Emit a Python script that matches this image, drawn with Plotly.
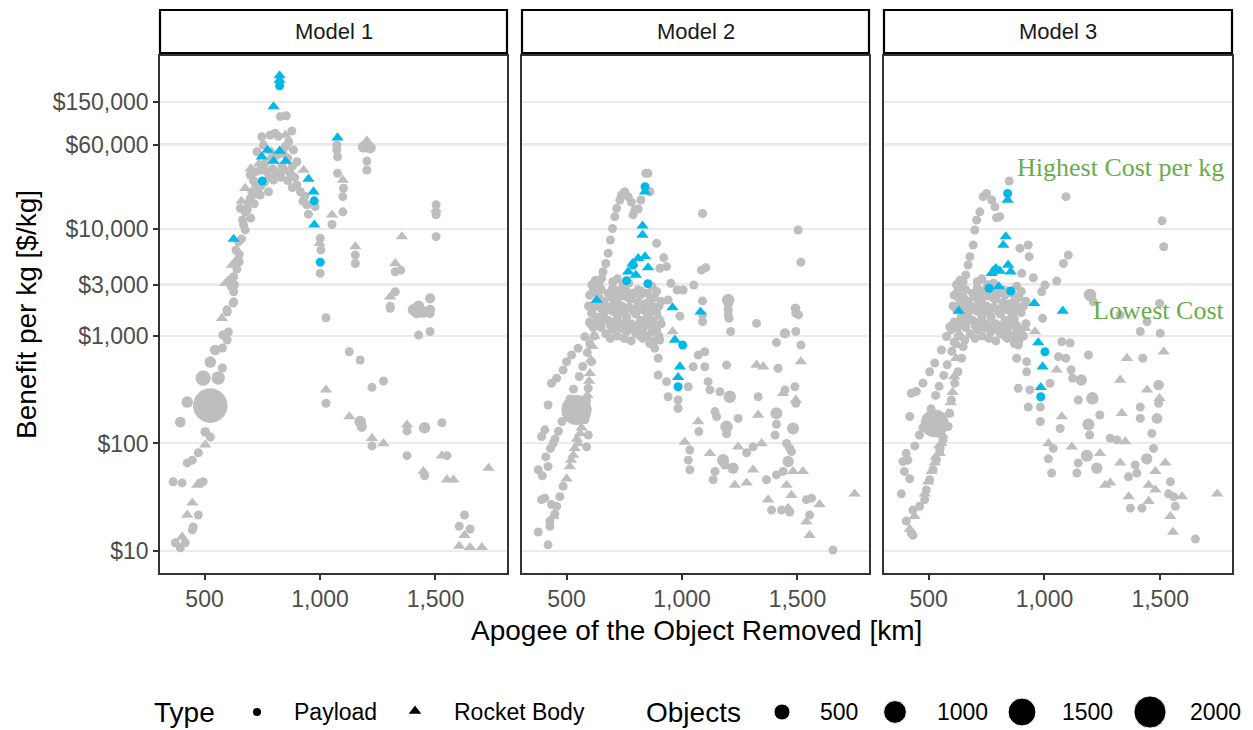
import math
import plotly.graph_objects as go

# ---------------- data: (apogee km, benefit $/kg[, objects]) ----------------
DEFAULT_N = 120

m1_payload = [
    (373, 11.9), (395, 10.7), (416, 11.9), (447, 15.7), (451, 16.7), (473, 21.6, 150),
    (481, 43, 150), (494, 44, 150), (364, 44, 150), (403, 43, 150), (425, 66), (447, 70),
    (473, 82), (525, 115), (503, 128, 180), (395, 158, 220), (425, 243, 260), (525, 225, 2300),
    (494, 406, 450), (559, 406, 350), (577, 503, 160), (525, 572, 260), (546, 741, 220),
    (577, 773, 160), (581, 1021, 180), (603, 1089), (598, 918), (598, 1671, 150), (624, 2027),
    (626, 2580), (626, 2080), (597, 1750), (611, 3320), (626, 3560), (650, 4910), (650, 5750),
    (647, 7530), (676, 9700), (669, 10800), (676, 14300), (655, 15400), (698, 19100),
    (741, 20500), (777, 22000), (799, 28200), (770, 33700), (741, 34900), (720, 33700),
    (698, 31500), (727, 51800), (755, 59800), (748, 71400), (784, 74000), (806, 77000),
    (820, 72000), (864, 64100), (878, 80700), (885, 53700), (900, 41800), (871, 32600),
    (900, 25400), (926, 18000), (943, 16600), (950, 13600), (979, 16000), (1001, 8110),
    (1004, 6310), (1001, 3830), (828, 110000), (854, 112000), (1073, 59800), (1073, 53700),
    (1076, 46500), (1076, 32600), (1102, 23700), (1099, 19800), (1099, 14300), (1052, 10900),
    (1026, 1480), (1189, 57600, 260), (1217, 56400, 260), (1203, 42400), (1203, 35000),
    (1153, 5660), (1153, 4730), (1326, 3960), (1350, 4100), (1326, 2580), (1304, 1810),
    (1304, 1890), (1503, 16600), (1503, 13400), (1503, 8400), (1405, 1750, 260),
    (1427, 1890, 260), (1420, 1670, 300), (1448, 1670, 260), (1477, 2240, 200),
    (1477, 1750, 200), (1477, 1620), (1427, 1020), (1477, 1100), (1127, 714), (1174, 598),
    (1275, 381), (1225, 333), (1026, 237), (1174, 160, 260), (1181, 143, 200), (1225, 95),
    (1377, 131), (1453, 140, 260), (1528, 156), (1377, 77), (1453, 50), (1550, 77),
    (1626, 21.6), (1603, 17), (1650, 16),
    (760, 40000), (790, 45000), (815, 48000), (840, 50000), (860, 45000), (880, 38000),
    (835, 38000), (745, 25000), (720, 26000), (705, 22000), (690, 17000), (712, 28000),
    (850, 58000), (636, 6300), (640, 4200), (615, 2900),
    (630, 3000), (640, 5000), (660, 8000), (665, 12000), (685, 15000), (700, 12500),
    (715, 17000), (725, 21000), (735, 24000), (760, 27000), (780, 30000), (795, 36000),
    (810, 33000), (830, 30000), (845, 35000), (860, 28000), (880, 24000), (890, 30000),
    (915, 22000), (935, 20000),
]
m1_rocket = [
    (403, 13.5), (425, 21.6), (447, 28), (468, 41), (503, 97), (575, 1460), (590, 3090),
    (619, 4570), (676, 23700), (850, 74000), (929, 35000), (998, 7280), (1099, 28200),
    (1052, 13400), (1203, 63400, 260), (1153, 6780), (1355, 8400), (1326, 4730), (1304, 2320),
    (1503, 14900), (1026, 315), (1127, 178), (1225, 112), (1275, 100), (1377, 149), (1448, 55),
    (1528, 77), (1550, 46), (1578, 46), (1730, 59), (1626, 14), (1603, 11.1), (1650, 10.8),
    (1701, 10.8), (660, 18000), (700, 36000), (735, 40000), (790, 52000),
]
m1_payload_hl = [(825, 213000), (750, 27700), (975, 18100), (1001, 4860)]
m1_rocket_hl = [
    (825, 265000), (825, 240000), (799, 136000), (773, 53700), (748, 46500), (825, 52600),
    (799, 42400), (851, 42400), (950, 28800), (972, 22000), (975, 10800), (626, 7980),
    (1076, 70000),
]

m2_payload = [
    (843, 32600), (853, 32600), (861, 22000), (822, 18400), (752, 22000), (738, 20500),
    (767, 19800), (731, 18400), (781, 17600), (717, 15400), (796, 14900), (810, 15200),
    (788, 13400), (709, 12900), (699, 10000), (690, 7820), (680, 5880), (670, 4730),
    (658, 3960), (652, 3440), (641, 2980), (632, 2580), (1089, 13800), (1503, 9680),
    (1515, 4860), (890, 7280), (921, 5360), (904, 4260), (933, 4420), (952, 3090), (979, 2680),
    (1005, 2680), (1051, 2980), (1084, 4100), (1103, 4320), (940, 2160), (1089, 2120),
    (1200, 2160, 300), (1200, 1750), (1204, 1460), (1323, 1310), (1490, 1810), (1505, 1570),
    (608, 1630), (601, 1310), (579, 986), (550, 769), (522, 665), (500, 577), (485, 483),
    (457, 404), (435, 363), (420, 228), (406, 134), (392, 116), (442, 100), (420, 61),
    (377, 57), (406, 31), (392, 30), (435, 27), (449, 22), (428, 19), (377, 15), (420, 11.4),
    (543, 205, 1750), (608, 577), (594, 326), (587, 254), (579, 166), (485, 40), (471, 32),
    (457, 26), (428, 17), (594, 120), (587, 93),
    (991, 1530), (875, 1360), (882, 770), (904, 918), (897, 621), (897, 433), (933, 376),
    (940, 272), (983, 254), (983, 212), (1027, 337), (1070, 665), (1099, 714), (1048, 518),
    (1099, 518), (1113, 376), (1121, 315), (1164, 303), (1207, 272, 300), (1193, 537),
    (1330, 272), (1243, 171), (1143, 198), (1073, 129), (1150, 178), (1193, 143, 300),
    (1193, 123), (1416, 501), (1409, 191, 280), (1409, 151), (1481, 138, 280), (1403, 120),
    (1446, 315), (1489, 337), (1493, 237), (1446, 1060, 200), (1409, 868), (1493, 1100),
    (1515, 824), (1493, 1810), (1493, 1630), (1211, 1100), (1200, 1940), (1200, 1570),
    (1089, 1360), (1089, 1570),
    (1034, 87), (1027, 70), (1034, 57), (1178, 70, 280), (1185, 63), (1221, 59, 250),
    (1143, 55), (1135, 46), (1280, 82), (1308, 93), (1366, 46), (1409, 51), (1438, 55),
    (1460, 68, 250), (1453, 100), (1467, 90), (1474, 84), (1388, 24), (1431, 24), (1467, 23),
    (1539, 30), (1561, 31), (1553, 21.6), (1654, 10.2),
    (640, 2300), (660, 2100), (680, 2500), (700, 2800), (720, 2200), (740, 1900), (760, 2600),
    (780, 2200), (800, 1800), (820, 2400), (840, 2000), (860, 1700), (880, 2300), (900, 1900),
    (760, 1500), (780, 1300), (800, 1600), (820, 1400), (840, 1250), (860, 1450), (700, 1700),
    (720, 1500), (740, 1300), (680, 1400), (660, 1600), (620, 1900), (630, 1500), (650, 1200),
    (670, 1050), (700, 1150), (720, 1000), (870, 1100), (850, 1000), (880, 900), (830, 950),
    (760, 1100), (800, 1050),
    (610, 3000), (625, 3300), (700, 3200), (720, 3400), (745, 3000), (770, 3100),
    (600, 2400), (615, 2600), (650, 2700), (690, 2300), (710, 2450), (730, 2650), (750, 2350),
    (770, 2250), (790, 2500), (810, 2700), (850, 2500), (870, 2900), (890, 2600),
    (595, 1900), (610, 1750), (630, 2000), (650, 1800), (670, 1900), (690, 1750), (710, 1950),
    (730, 1800), (750, 1650), (770, 1850), (790, 1700), (810, 2050), (830, 1750), (850, 1550),
    (870, 1900), (890, 1650), (910, 2100),
    (600, 1350), (615, 1200), (640, 1350), (660, 1400), (690, 1250), (710, 1350), (730, 1200),
    (750, 1150), (770, 1250), (790, 1150), (810, 1250), (830, 1150), (850, 1350), (870, 1250),
    (890, 1150), (910, 1300), (620, 1000), (690, 950), (750, 950), (780, 900), (820, 1000),
    (860, 850), (900, 1000),
    (395, 50), (410, 75), (430, 90), (450, 110), (465, 130), (480, 160), (500, 190),
    (515, 260), (530, 320), (555, 420), (570, 520), (590, 700), (600, 850),
]
m2_rocket = [
    (1012, 103), (1121, 81), (1243, 93), (1345, 100), (1308, 57), (1229, 41), (1280, 43),
    (1481, 55), (1453, 41), (1524, 55), (1474, 33), (1373, 30), (1460, 25), (1596, 27),
    (1539, 18.7), (1553, 14), (1748, 34), (1070, 160), (1330, 184), (1323, 537), (1352, 518),
    (1438, 293), (1493, 254), (1515, 577), (959, 1100), (601, 450), (558, 124), (550, 100),
    (529, 78), (514, 61), (500, 47), (442, 21), (780, 2400), (830, 2600), (700, 2000),
    (740, 1700), (860, 2200), (900, 1500),
    (520, 70), (535, 90), (545, 110), (565, 140), (575, 180), (585, 220), (590, 280),
    (598, 380), (605, 600), (612, 800), (620, 1000), (630, 1300),
]
m2_payload_hl = [(840, 24500), (788, 4580), (760, 3270), (852, 3070), (1003, 824), (983, 337)]
m2_rocket_hl = [
    (840, 22000), (829, 10600), (829, 8700), (840, 5470), (810, 5270), (786, 4730),
    (767, 3960), (800, 3690), (853, 4330), (959, 1840), (1080, 1680), (969, 918), (991, 518),
    (983, 413), (630, 2160),
]

m3_payload = [
    (848, 27700), (750, 21200), (735, 19800), (772, 18400), (786, 15900), (721, 14300),
    (807, 12900), (793, 12600), (707, 12000), (699, 9680), (692, 7020), (678, 5470),
    (670, 4580), (660, 3690), (649, 3200), (635, 2780), (630, 2240), (1093, 19800),
    (1508, 11800), (1515, 6770), (1103, 5660), (1082, 4730), (894, 6550), (930, 7020),
    (934, 5470), (902, 3830), (952, 3480), (1002, 2980), (988, 2580), (1053, 3250),
    (1197, 2410, 300), (1211, 2080), (1443, 1360), (1497, 2010), (1327, 1570),
    (992, 1460), (880, 990), (887, 824), (880, 621), (923, 577), (887, 326), (937, 315),
    (923, 464), (930, 218), (982, 218), (982, 160), (1024, 363), (1075, 885), (1111, 860),
    (1060, 642), (1092, 621), (1115, 484), (1122, 404), (1159, 390, 250), (1190, 665),
    (1207, 263, 300), (1146, 254), (1239, 184), (1190, 150, 280), (1195, 120), (1068, 138),
    (1425, 621), (1414, 218), (1493, 350, 220), (1493, 237), (1486, 171, 220), (1414, 171),
    (1500, 1060), (1414, 1100),
    (1038, 90), (1017, 72), (1031, 53), (1183, 77, 280), (1146, 66), (1226, 59, 250),
    (1140, 53), (1284, 112), (1313, 108), (1363, 49), (1399, 53), (1442, 72, 250),
    (1464, 124), (1471, 90), (1392, 63), (1544, 44), (1371, 25), (1421, 25), (1536, 34),
    (1558, 32), (1565, 26), (1652, 12.9),
    (591, 1220), (577, 990), (555, 740), (526, 561), (504, 465), (475, 364), (447, 305),
    (425, 293), (418, 178), (526, 154, 1500), (403, 81), (389, 68), (418, 47), (382, 34),
    (403, 19), (425, 14.6), (432, 24), (461, 26), (483, 30), (490, 37), (504, 46), (519, 57),
    (533, 70), (548, 87), (562, 108), (584, 144), (591, 191), (598, 254), (613, 364),
    (627, 465), (642, 621), (649, 796), (656, 918), (598, 1140), (432, 14),
    (650, 2300), (670, 2100), (690, 2500), (710, 2800), (730, 2200), (750, 1900), (770, 2600),
    (790, 2200), (810, 1800), (830, 2400), (850, 2000), (870, 1700), (890, 2300), (910, 1900),
    (770, 1500), (790, 1300), (810, 1600), (830, 1400), (850, 1250), (870, 1450), (710, 1700),
    (730, 1500), (750, 1300), (690, 1400), (670, 1600), (630, 1900), (640, 1500), (660, 1200),
    (680, 1050), (710, 1150), (730, 1000), (880, 1100), (860, 1000), (890, 900), (840, 950),
    (770, 1100), (810, 1050),
    (620, 3000), (635, 3300), (710, 3200), (730, 3400), (755, 3000), (780, 3100),
    (610, 2400), (625, 2600), (660, 2700), (700, 2300), (720, 2450), (740, 2650), (760, 2350),
    (780, 2250), (800, 2500), (820, 2700), (860, 2500), (880, 2900), (900, 2600),
    (605, 1900), (620, 1750), (640, 2000), (660, 1800), (680, 1900), (700, 1750), (720, 1950),
    (740, 1800), (760, 1650), (780, 1850), (800, 1700), (820, 2050), (840, 1750), (860, 1550),
    (880, 1900), (900, 1650), (920, 2100),
    (610, 1350), (625, 1200), (650, 1350), (670, 1400), (700, 1250), (720, 1350), (740, 1200),
    (760, 1150), (780, 1250), (800, 1150), (820, 1250), (840, 1150), (860, 1350), (880, 1250),
    (900, 1150), (920, 1300), (630, 1000), (700, 950), (760, 950), (790, 900), (830, 1000),
    (870, 850), (910, 1000),
    (395, 55), (410, 70), (440, 95), (460, 120), (475, 140), (490, 170), (510, 210),
    (530, 280), (545, 340), (565, 430), (580, 540), (600, 720), (610, 880),
]
m3_rocket = [
    (1017, 100), (1118, 93), (1240, 81), (1349, 104), (1327, 66), (1262, 41), (1284, 43),
    (1450, 41), (1479, 55), (1522, 66), (1479, 37), (1364, 32), (1450, 29), (1594, 32),
    (1544, 21), (1555, 15), (1746, 34), (1075, 178), (1334, 191), (1327, 390), (1356, 621),
    (1443, 315), (1497, 263), (1515, 714), (916, 1180), (959, 1100), (555, 100), (548, 81),
    (526, 66), (512, 55), (497, 44), (483, 34), (439, 21), (418, 16), (1053, 484),
    (780, 2400), (840, 2600), (710, 2000), (750, 1700), (870, 2200),
    (530, 75), (545, 95), (560, 120), (575, 150), (585, 190), (595, 240), (603, 300),
    (610, 420), (618, 620), (625, 820), (632, 1050), (640, 1350),
]
m3_payload_hl = [(841, 21200), (786, 4100), (761, 2780), (854, 2620), (1002, 714), (984, 272)]
m3_rocket_hl = [
    (841, 18400), (833, 8400), (822, 7020), (790, 4260), (772, 3830), (843, 4580),
    (854, 3960), (807, 4030), (803, 2880), (630, 1710), (956, 2010), (1079, 1710),
    (973, 868), (992, 518), (984, 333),
]

panel_titles = ["Model 1", "Model 2", "Model 3"]
y_tick_vals = [10, 100, 1000, 3000, 10000, 60000, 150000]
y_tick_text = ["$10", "$100", "$1,000", "$3,000", "$10,000", "$60,000", "$150,000"]
x_tick_vals = [500, 1000, 1500]
x_tick_text = ["500", "1,000", "1,500"]
cost_lines = [3000, 60000]
legend_objects = [500, 1000, 1500, 2000]

# ---------------- styling ----------------
W, H = 1253, 730
FONT = "Liberation Sans, Arial, sans-serif"
GRAY = "#BEBEBE"
BLUE = "#00B9E8"
GREEN_LINE = "#8FBC8F"
GREEN_TEXT = "#6AAB4A"

def diam(n):
    return max(9.0, 0.72 * math.sqrt(n))

def unpack(pts, tri=False):
    xs = [p[0] for p in pts]
    ys = [p[1] for p in pts]
    ns = [p[2] if len(p) > 2 else DEFAULT_N for p in pts]
    sz = [diam(n) * (1.2 if tri else 1.0) for n in ns]
    return xs, ys, sz

panels = [
    (m1_payload, m1_rocket, m1_payload_hl, m1_rocket_hl),
    (m2_payload, m2_rocket, m2_payload_hl, m2_rocket_hl),
    (m3_payload, m3_rocket, m3_payload_hl, m3_rocket_hl),
]
x_domains = [(160 / W, 507 / W), (522 / W, 869 / W), (884 / W, 1232 / W)]
y_domain = ((730 - 573) / H, (730 - 56) / H)

fig = go.Figure()
for i, (pay, roc, pay_hl, roc_hl) in enumerate(panels):
    ax = "" if i == 0 else str(i + 1)
    for pts, tri, col in [(pay, False, GRAY), (roc, True, GRAY), (pay_hl, False, BLUE), (roc_hl, True, BLUE)]:
        xs, ys, sz = unpack(pts, tri)
        fig.add_trace(go.Scatter(
            x=xs, y=ys, mode="markers", xaxis="x" + ax, yaxis="y" + ax,
            marker=dict(symbol="triangle-up" if tri else "circle", size=sz, color=col,
                        opacity=1, line=dict(width=0)),
            showlegend=False, hoverinfo="skip"))

axis_common = dict(showline=True, mirror=True, linecolor="#333333", linewidth=1.5,
                   ticks="outside", ticklen=5, tickwidth=1.5, tickcolor="#333333",
                   zeroline=False, tickfont=dict(family=FONT, size=23, color="#4D4D4D"))
layout = dict(width=W, height=H, margin=dict(l=0, r=0, t=0, b=0),
              paper_bgcolor="white", plot_bgcolor="white", showlegend=False)
for i in range(3):
    sfx = "" if i == 0 else str(i + 1)
    layout["xaxis" + sfx] = dict(domain=list(x_domains[i]), anchor="y" + sfx, range=[307, 1810],
                                  tickvals=x_tick_vals, ticktext=x_tick_text, showgrid=False,
                                  **axis_common)
    yax = dict(domain=list(y_domain), anchor="x" + sfx, type="log", range=[0.795, 5.605],
               tickvals=y_tick_vals, ticktext=y_tick_text, showgrid=True,
               gridcolor="#EBEBEB", gridwidth=2, **axis_common)
    if i > 0:
        yax["showticklabels"] = False
        yax["ticks"] = ""
    layout["yaxis" + sfx] = yax

# legend subplot (pixel coordinates)
layout["xaxis4"] = dict(domain=[0, 1], anchor="y4", range=[0, W], visible=False, fixedrange=True)
layout["yaxis4"] = dict(domain=[0, 58 / H], anchor="x4", range=[0, 58], visible=False, fixedrange=True)
fig.update_layout(**layout)

shapes, annotations = [], []
for i in range(3):
    sfx = "" if i == 0 else str(i + 1)
    for v in cost_lines:
        shapes.append(dict(type="line", xref="x" + sfx + " domain", x0=0, x1=1, yref="y" + sfx,
                           y0=v, y1=v, line=dict(color=GREEN_LINE, width=2), layer="below"))
    shapes.append(dict(type="rect", xref="x" + sfx + " domain", x0=0, x1=1, yref="paper",
                       y0=(730 - 53) / H, y1=(730 - 10) / H, fillcolor="white",
                       line=dict(color="black", width=2.2)))
    annotations.append(dict(text=panel_titles[i], xref="x" + sfx + " domain", x=0.5, yref="paper",
                            y=(730 - 31.5) / H, showarrow=False, xanchor="center", yanchor="middle",
                            font=dict(family=FONT, size=22, color="#1A1A1A")))

annotations += [
    dict(text="Highest Cost per kg", xref="paper", x=1226 / W, yref="paper", y=(730 - 167) / H,
         xanchor="right", yanchor="middle", showarrow=False,
         font=dict(family="Liberation Serif, Times New Roman, serif", size=26, color=GREEN_TEXT)),
    dict(text="Lowest Cost", xref="paper", x=1227 / W, yref="paper", y=(730 - 310) / H,
         xanchor="right", yanchor="middle", showarrow=False,
         font=dict(family="Liberation Serif, Times New Roman, serif", size=26, color=GREEN_TEXT)),
    dict(text="Apogee of the Object Removed [km]", xref="paper", x=696 / W, yref="paper",
         y=(730 - 630) / H, xanchor="center", yanchor="middle", showarrow=False,
         font=dict(family=FONT, size=28, color="black")),
    dict(text="Benefit per kg [$/kg]", xref="paper", x=27 / W, yref="paper", y=(730 - 315) / H,
         xanchor="center", yanchor="middle", textangle=-90, showarrow=False,
         font=dict(family=FONT, size=28, color="black")),
]

# legend
LY = 18
fig.add_trace(go.Scatter(x=[257], y=[LY], xaxis="x4", yaxis="y4", mode="markers",
                         marker=dict(symbol="circle", size=8, color="black", opacity=1),
                         showlegend=False, hoverinfo="skip"))
fig.add_trace(go.Scatter(x=[415], y=[LY + 1], xaxis="x4", yaxis="y4", mode="markers",
                         marker=dict(symbol="triangle-up", size=11, color="black", opacity=1),
                         showlegend=False, hoverinfo="skip"))
obj_x = [782, 895, 1022, 1150]
fig.add_trace(go.Scatter(x=obj_x, y=[LY] * 4, xaxis="x4", yaxis="y4", mode="markers",
                         marker=dict(symbol="circle", size=[0.72 * math.sqrt(n) for n in legend_objects],
                                     color="black", opacity=1),
                         showlegend=False, hoverinfo="skip"))
leg_texts = [("Type", 152, 28), ("Payload", 292, 23), ("Rocket Body", 452, 23), ("Objects", 644, 28)]
leg_texts += [(str(n), x, 23) for n, x in zip(legend_objects, [818, 935, 1060, 1188])]
for t, x, s in leg_texts:
    annotations.append(dict(text=t, xref="x4", yref="y4", x=x, y=LY, xanchor="left", yanchor="middle",
                            showarrow=False, font=dict(family=FONT, size=s, color="black")))

fig.update_layout(shapes=shapes, annotations=annotations)
fig.write_html("out.html")
